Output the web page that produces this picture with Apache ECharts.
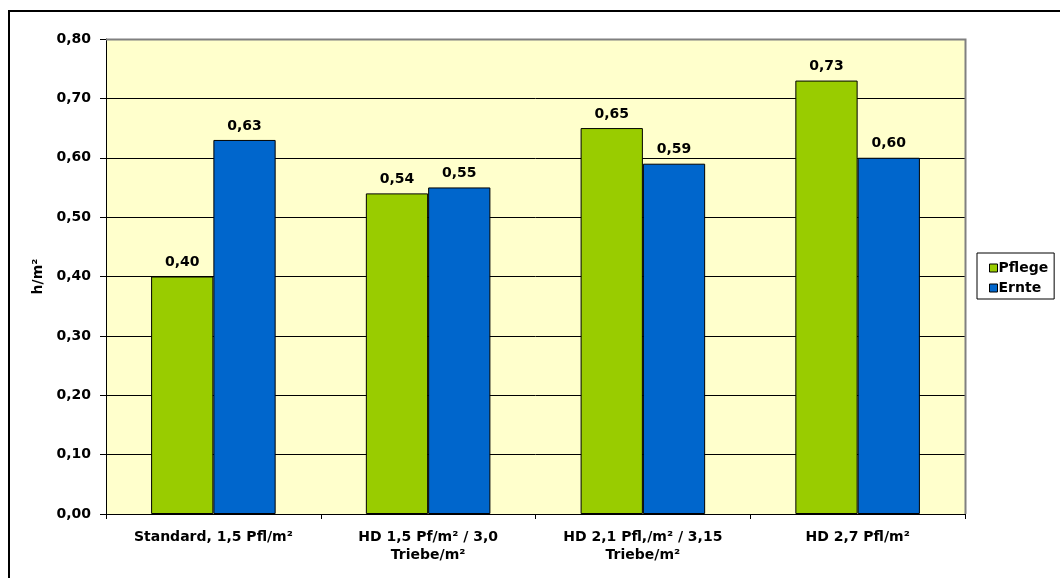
<!DOCTYPE html>
<html>
<head>
<meta charset="utf-8">
<script src="https://cdn.jsdelivr.net/npm/echarts@6/dist/echarts.min.js"></script>
<style>
  html, body { margin: 0; padding: 0; background: #fff; }
  #chart { width: 1060px; height: 578px; }
</style>
</head>
<body>
<div id="chart"></div>
<script>
// Arbeitszeitbedarf je Variante (h/m²)
const categories = [
  'Standard, 1,5 Pfl/m²',
  'HD 1,5 Pf/m² / 3,0\nTriebe/m²',
  'HD 2,1 Pfl,/m² / 3,15\nTriebe/m²',
  'HD 2,7 Pfl/m²'
];
const pflege = [0.40, 0.54, 0.65, 0.73];
const ernte = [0.63, 0.55, 0.59, 0.60];
const seriesNames = ['Pflege', 'Ernte'];

const font = '"DejaVu Sans", "Liberation Sans", Arial, sans-serif';
const fmt = v => v.toFixed(2).replace('.', ',');

const chart = echarts.init(document.getElementById('chart'), null, { renderer: 'canvas' });

const barLabel = {
  show: true,
  position: 'top',
  distance: 7,
  color: '#000',
  fontFamily: font,
  fontWeight: 'bold',
  fontSize: 14,
  formatter: p => fmt(p.value)
};

chart.setOption({
  animation: false,
  backgroundColor: '#fff',
  textStyle: { fontFamily: font },
  graphic: [
    {
      // outer frame
      type: 'rect',
      shape: { x: 9, y: 11, width: 1100, height: 620 },
      style: { fill: 'none', stroke: '#000', lineWidth: 2 },
      z: 100
    },
    {
      // plot area frame, top and right
      type: 'polyline',
      shape: { points: [[106, 39.5], [965.5, 39.5], [965.5, 514]] },
      style: { fill: 'none', stroke: '#808080', lineWidth: 2 },
      z: 50
    }
  ],
  grid: {
    left: 106, right: 95, top: 39, bottom: 64,
    show: true,
    backgroundColor: '#FFFFCC',
    borderWidth: 0
  },
  legend: {
    orient: 'vertical',
    left: 977,
    top: 253,
    itemWidth: 8,
    itemHeight: 8,
    itemGap: 6,
    padding: [8, 6, 4, 12],
    borderColor: '#000',
    borderWidth: 1,
    backgroundColor: '#fff',
    borderRadius: 0,
    icon: 'rect',
    itemStyle: { borderColor: '#000', borderWidth: 1 },
    textStyle: {
      fontFamily: font, fontWeight: 'bold', fontSize: 14, lineHeight: 14,
      color: '#000', padding: [0, 0, 0, -4]
    },
    data: seriesNames
  },
  xAxis: {
    type: 'category',
    data: categories,
    axisLine: { show: true, lineStyle: { color: '#000', width: 1 } },
    axisTick: { show: true, length: 5, lineStyle: { color: '#000' } },
    axisLabel: {
      color: '#000', fontFamily: font, fontWeight: 'bold', fontSize: 14,
      lineHeight: 18, margin: 14, interval: 0
    }
  },
  yAxis: {
    type: 'value',
    min: 0, max: 0.8, interval: 0.1,
    name: 'h/m²',
    nameLocation: 'middle',
    nameRotate: 90,
    nameGap: 60,
    nameTextStyle: { color: '#000', fontFamily: font, fontWeight: 'bold', fontSize: 14 },
    axisLine: { show: true, lineStyle: { color: '#000', width: 1 } },
    axisTick: { show: true, length: 6, lineStyle: { color: '#000' } },
    axisLabel: {
      color: '#000', fontFamily: font, fontWeight: 'bold', fontSize: 14, margin: 15,
      formatter: v => fmt(v)
    },
    splitLine: { show: true, lineStyle: { color: '#000', width: 1 } }
  },
  series: [
    {
      name: seriesNames[0],
      type: 'bar',
      data: pflege,
      barGap: '0%',
      barCategoryGap: '42%',
      itemStyle: { color: '#99CC00', borderColor: '#000', borderWidth: 1 },
      label: barLabel
    },
    {
      name: seriesNames[1],
      type: 'bar',
      data: ernte,
      barGap: '0%',
      barCategoryGap: '42%',
      itemStyle: { color: '#0066CC', borderColor: '#000', borderWidth: 1 },
      label: barLabel
    }
  ]
});
</script>
</body>
</html>
